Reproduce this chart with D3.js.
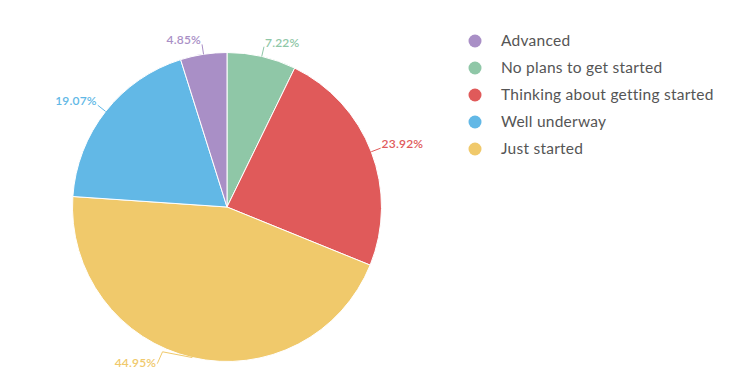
<!DOCTYPE html>
<html><head><meta charset="utf-8">
<script src="https://cdn.jsdelivr.net/npm/d3@7/dist/d3.min.js"></script>
<style>body{margin:0;background:#fff;}svg{display:block;}</style>
</head><body>
<svg id="chart" width="729" height="385"></svg>
<script>
// Data (pie order, clockwise from 12 o'clock)
const categories = ["No plans to get started", "Thinking about getting started", "Just started", "Well underway", "Advanced"];
const values = [7.22, 23.92, 44.95, 19.07, 4.85];
const colors = ["#8fc7a7", "#e05a5a", "#f0c96b", "#62b8e6", "#a98fc6"];
const legendOrder = ["Advanced", "No plans to get started", "Thinking about getting started", "Well underway", "Just started"];

const svg = d3.select("#chart");
const cx = 227, cy = 207, r = 154.5;
const color = d3.scaleOrdinal().domain(categories).range(colors);
const data = categories.map((c, i) => ({cat: c, value: values[i]}));
const pie = d3.pie().sort(null).value(d => d.value);
const arcs = pie(data);
const arc = d3.arc().innerRadius(0).outerRadius(r);

const g = svg.append("g").attr("transform", `translate(${cx},${cy})`);
g.selectAll("path.slice").data(arcs).join("path")
  .attr("class", "slice")
  .attr("d", arc)
  .attr("fill", d => color(d.data.cat))
  .attr("stroke", "#fff").attr("stroke-width", 1);

// label angle nudges (degrees) for collision avoidance
const nudge = {"Just started": 11};
const pt = (a, rad) => [Math.sin(a) * rad, -Math.cos(a) * rad];
arcs.forEach(d => {
  const mid = (d.startAngle + d.endAngle) / 2;
  const la = mid + (nudge[d.data.cat] || 0) * Math.PI / 180;
  const c = color(d.data.cat);
  let pts, end;
  if (nudge[d.data.cat]) {
    const p1 = pt(la, r + 4);
    end = pt(la, r + 17);
    pts = [pt(mid, r), p1, end];
  } else {
    end = pt(mid, r + 10);
    pts = [pt(mid, r), end];
  }
  g.append("path").attr("d", d3.line()(pts))
    .attr("fill", "none").attr("stroke", c).attr("stroke-width", 1);
  const right = Math.sin(la) >= 0;
  g.append("text")
    .attr("x", end[0] + (right ? 1 : -1))
    .attr("y", end[1] + (nudge[d.data.cat] ? 3 : 0))
    .attr("text-anchor", right ? "start" : "end")
    .attr("font-family", "Lato, 'Open Sans', sans-serif")
    .attr("font-size", 12).attr("font-weight", 600)
    .attr("letter-spacing", 0.2)
    .attr("fill", c)
    .text(d.value.toFixed(2) + "%");
});

// Legend
const leg = svg.append("g").attr("transform", "translate(475,41)");
const items = leg.selectAll("g").data(legendOrder).join("g")
  .attr("transform", (d, i) => `translate(0,${i * 27})`);
items.append("circle").attr("r", 6.5).attr("fill", d => color(d));
items.append("text").attr("x", 26).attr("dy", "0.35em")
  .attr("font-family", "Lato, 'Open Sans', sans-serif")
  .attr("font-size", 15.5).attr("fill", "#555")
  .attr("letter-spacing", 0.25)
  .text(d => d);
</script>
</body></html>
